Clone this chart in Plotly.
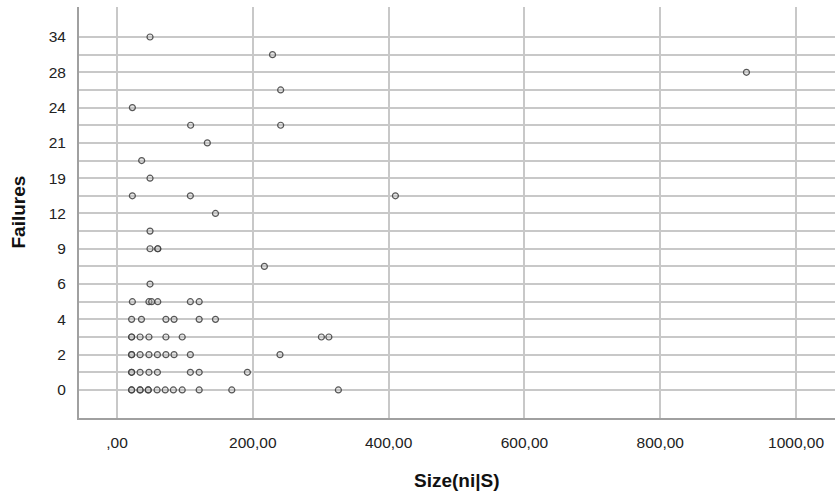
import plotly.graph_objects as go

# Failure categories (ordered bottom to top); only every other one is labelled
failure_levels = ["0", "1", "2", "3", "4", "5", "6", "7", "9", "10", "12",
                  "14", "19", "20", "21", "22", "24", "26", "28", "31", "34"]
shown_labels = ["0", "2", "4", "6", "9", "12", "19", "21", "24", "28", "34"]

# Observations: size value per failure category
sizes_0 = [21.5, 21.5, 34, 34, 46, 46, 59, 71, 83, 96, 121, 169, 326]
sizes_1 = [21.5, 21.5, 34, 47, 59.5, 108, 121, 192]
sizes_2 = [21.5, 21.5, 34, 47, 59.5, 72, 84, 108, 240]
sizes_3 = [21.5, 21.5, 34, 47, 72, 96, 301, 312]
sizes_4 = [21.5, 36, 72, 84, 121, 145]
sizes_5 = [22.6, 47, 51, 60, 108, 121]
sizes_6 = [48.6]
sizes_7 = [217]
sizes_9 = [48.6, 60, 60]
sizes_10 = [48.6]
sizes_12 = [145]
sizes_14 = [22.6, 108, 410]
sizes_19 = [48.6]
sizes_20 = [36.3]
sizes_21 = [133]
sizes_22 = [108.4, 241]
sizes_24 = [22.6]
sizes_26 = [241]
sizes_28 = [927]
sizes_31 = [229]
sizes_34 = [48.6]

groups = [sizes_0, sizes_1, sizes_2, sizes_3, sizes_4, sizes_5, sizes_6, sizes_7,
          sizes_9, sizes_10, sizes_12, sizes_14, sizes_19, sizes_20, sizes_21,
          sizes_22, sizes_24, sizes_26, sizes_28, sizes_31, sizes_34]

x_vals, y_vals = [], []
for lvl, grp in zip(failure_levels, groups):
    for v in grp:
        x_vals.append(v)
        y_vals.append(lvl)

x_tickvals = [0, 200, 400, 600, 800, 1000]
x_ticktext = [",00", "200,00", "400,00", "600,00", "800,00", "1000,00"]

fig = go.Figure()
fig.add_trace(go.Scatter(
    x=x_vals, y=y_vals, mode="markers",
    marker=dict(symbol="circle", size=6, color="rgba(190,190,190,0.35)",
                line=dict(color="rgba(60,60,60,0.85)", width=1.2)),
    hoverinfo="x+y", showlegend=False,
))

fig.update_layout(
    width=835, height=499,
    margin=dict(l=79, r=0, t=7, b=81),
    paper_bgcolor="white", plot_bgcolor="white",
    font=dict(family="Liberation Sans, Arial, sans-serif", size=15.5, color="#222"),
    xaxis=dict(
        range=[-56, 1057.4], tickmode="array", tickvals=x_tickvals, ticktext=x_ticktext,
        showgrid=True, gridcolor="#c8c8c8", gridwidth=2, zeroline=False,
        showline=True, linecolor="#a0a0a0", linewidth=2,
        ticks="", ticklabelstandoff=9, automargin=False,
    ),
    yaxis=dict(
        type="category", categoryorder="array", categoryarray=failure_levels,
        range=[-1.59, 21.7],
        tickmode="array", tickvals=failure_levels,
        ticktext=[l if l in shown_labels else "" for l in failure_levels],
        showgrid=True, gridcolor="#c8c8c8", gridwidth=2, zeroline=False,
        showline=True, linecolor="#a0a0a0", linewidth=2,
        ticks="", ticklabelstandoff=8, automargin=False,
    ),
    annotations=[
        dict(text="<b>Size(ni|S)</b>", xref="paper", yref="paper", x=0.5, y=0,
             xanchor="center", yanchor="middle", yshift=-62, showarrow=False,
             font=dict(size=19, color="#111")),
        dict(text="<b>Failures</b>", xref="paper", yref="paper", x=0, y=0.5,
             xanchor="center", yanchor="middle", xshift=-61, textangle=-90,
             showarrow=False, font=dict(size=19, color="#111")),
    ],
)

fig.write_html("out.html", config={"displayModeBar": False},
               post_script="document.body.style.margin='0';document.body.style.overflow='hidden';")
